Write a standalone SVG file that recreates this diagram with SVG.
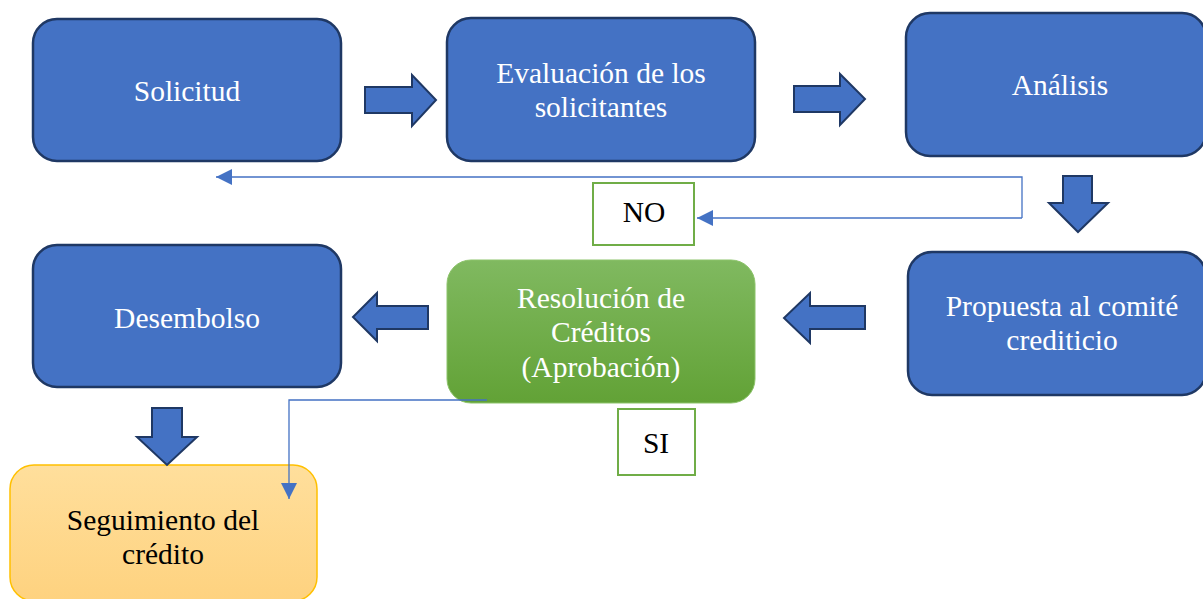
<svg xmlns="http://www.w3.org/2000/svg" width="1203" height="599" viewBox="0 0 1203 599">
<style>
.box{fill:#4472c4;stroke:#1f3864;stroke-width:2.5}
.blk{fill:#4472c4;stroke:#1f3864;stroke-width:2;stroke-linejoin:miter}
.t{font-family:'Liberation Serif','Times New Roman',serif;font-size:29.5px;text-anchor:middle}
.w{fill:#ffffff}
.k{fill:#000000}
.tag{fill:#ffffff;stroke:#70ad47;stroke-width:2}
.con{fill:none;stroke:#4472c4;stroke-width:1.3}
</style>
<defs>
<linearGradient id="gGreen" x1="0" y1="0" x2="0" y2="1">
<stop offset="0" stop-color="#80b960"/>
<stop offset="1" stop-color="#62a236"/>
</linearGradient>
<linearGradient id="gGold" x1="0" y1="0" x2="0" y2="1">
<stop offset="0" stop-color="#ffdf9c"/>
<stop offset="1" stop-color="#fed27f"/>
</linearGradient>
<marker id="ah" markerUnits="userSpaceOnUse" markerWidth="16" markerHeight="16" refX="16" refY="8" orient="auto">
<path d="M0,0 L16,8 L0,16 Z" fill="#4472c4"/>
</marker>
</defs>
<rect width="1203" height="599" fill="#ffffff"/>

<g id="solicitud">
<rect class="box" x="33" y="19" width="308" height="142" rx="24"/>
<text class="t w" x="187" y="101">Solicitud</text>
</g>
<g id="evaluacion">
<rect class="box" x="447" y="18" width="308" height="143" rx="24"/>
<text class="t w" x="601" y="83">Evaluación de los</text>
<text class="t w" x="601" y="117">solicitantes</text>
</g>
<g id="analisis">
<rect class="box" x="906" y="13" width="300" height="143" rx="24"/>
<text class="t w" x="1060" y="95">Análisis</text>
</g>
<g id="propuesta">
<rect class="box" x="908" y="252" width="298" height="143" rx="24"/>
<text class="t w" x="1062" y="316">Propuesta al comité</text>
<text class="t w" x="1062" y="350">crediticio</text>
</g>
<g id="resolucion">
<rect x="447" y="260" width="308" height="143" rx="24" fill="url(#gGreen)" stroke="#8cc36a" stroke-width="1"/>
<text class="t w" x="601" y="308">Resolución de</text>
<text class="t w" x="601" y="342">Créditos</text>
<text class="t w" x="601" y="377">(Aprobación)</text>
</g>
<g id="desembolso">
<rect class="box" x="33" y="245" width="308" height="142" rx="24"/>
<text class="t w" x="187" y="328">Desembolso</text>
</g>
<g id="seguimiento">
<rect x="10" y="465" width="307" height="136" rx="24" fill="url(#gGold)" stroke="#ffc000" stroke-width="1.5"/>
<text class="t k" x="163" y="530">Seguimiento del</text>
<text class="t k" x="163" y="564">crédito</text>
</g>
<g id="no">
<rect class="tag" x="593" y="183" width="101" height="62"/>
<text class="t k" x="644" y="222">NO</text>
</g>
<g id="si">
<rect class="tag" x="618" y="409" width="77" height="66"/>
<text class="t k" x="656" y="453">SI</text>
</g>

<g id="connectors">
<path class="con" d="M1022,218 V177 H216" marker-end="url(#ah)"/>
<path class="con" d="M1022,218 H697" marker-end="url(#ah)"/>
<path class="con" d="M487,400 H289 V499" marker-end="url(#ah)"/>
<path class="blk" d="M365,87 H412 V75 L436,100 L412,126 V113 H365 Z"/>
<path class="blk" d="M794,86 H840 V74 L865,99 L840,125 V112 H794 Z"/>
<path class="blk" d="M1063,176 H1092 V203 H1108 L1078,232 L1049,203 H1063 Z"/>
<path class="blk" d="M865,306 H810 V293 L784,318 L810,343 V329 H865 Z"/>
<path class="blk" d="M428,306 H377 V293 L353,317 L377,341 V329 H428 Z"/>
<path class="blk" d="M152,408 H182 V437 H197 L167,465 L137,437 H152 Z"/>
</g>
</svg>
